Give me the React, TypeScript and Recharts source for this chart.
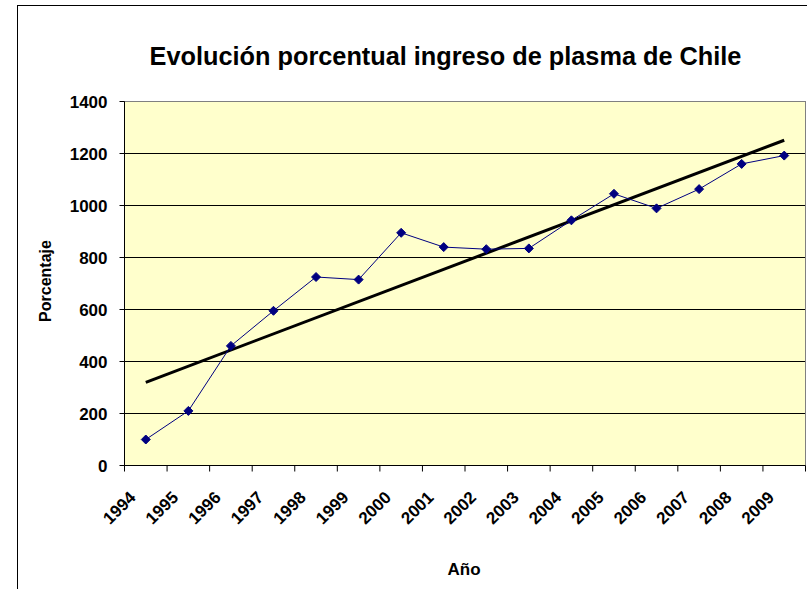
import { LineChart, Line, XAxis, YAxis, CartesianGrid, ReferenceLine } from "recharts";

const years = ["1994", "1995", "1996", "1997", "1998", "1999", "2000", "2001", "2002", "2003", "2004", "2005", "2006", "2007", "2008", "2009"];
const ingreso = [100, 210, 460, 595, 725, 715, 895, 840, 832, 835, 943, 1045, 989, 1063, 1160, 1192];
const trendStart = 320;
const trendEnd = 1251;
const yTicks = [0, 200, 400, 600, 800, 1000, 1200, 1400];

const data = years.map((year, i) => ({
  year,
  ingreso: ingreso[i],
  tendencia: i === 0 ? trendStart : i === years.length - 1 ? trendEnd : null,
}));

const font = "'Liberation Sans', Arial, sans-serif";

const YearTick = ({ x, y, payload }: any) => {
  const half = payload.offset ?? 0;
  const last = payload.value === years[years.length - 1];
  const tx = x - 9;
  const ty = y + 33;
  return (
    <g>
      <line x1={x - half} x2={x - half} y1={y} y2={y + 6} stroke="#000" />
      {last && <line x1={x + half} x2={x + half} y1={y} y2={y + 6} stroke="#000" />}
      <text
        x={tx}
        y={ty}
        textAnchor="end"
        transform={`rotate(-45, ${tx}, ${ty})`}
        fontFamily={font}
        fontWeight="bold"
        fontSize={17}
        fill="#000"
      >
        {payload.value}
      </text>
    </g>
  );
};

const Diamond = ({ cx, cy }: any) => {
  if (cx == null || cy == null) return null;
  const r = 4.5;
  return (
    <polygon
      points={`${cx},${cy - r} ${cx + r},${cy} ${cx},${cy + r} ${cx - r},${cy}`}
      fill="#000080"
      stroke="#000080"
    />
  );
};

export default function App() {
  return (
    <div style={{ position: "absolute", left: 0, top: 0, width: 807, height: 589, overflow: "hidden", background: "#fff", fontFamily: font }}>
      <div style={{ position: "absolute", left: 17, top: 5, width: 900, height: 700, border: "1px solid #000" }} />
      <div style={{ position: "absolute", left: 0, top: 44, width: 891, textAlign: "center", fontSize: 25.3, fontWeight: "bold", lineHeight: "25px", whiteSpace: "nowrap" }}>
        Evolución porcentual ingreso de plasma de Chile
      </div>
      <div style={{ position: "absolute", left: 0, top: 0 }}>
        <LineChart width={807} height={589} data={data} margin={{ top: 101.5, right: 0.5, left: 0, bottom: 43.5 }}>
          <CartesianGrid vertical={false} stroke="#000" fill="#FFFFCC" />
          <XAxis
            dataKey="year"
            scale="band"
            height={80}
            tickLine={false}
            tickSize={0}
            tickMargin={0}
            axisLine={{ stroke: "#000" }}
            interval={0}
            tick={<YearTick />}
          />
          <YAxis
            domain={[0, 1400]}
            ticks={yTicks}
            width={124.5}
            tickSize={5}
            tickMargin={12}
            axisLine={{ stroke: "#000" }}
            tickLine={{ stroke: "#000" }}
            tick={{ fill: "#000", fontSize: 17, fontWeight: "bold", fontFamily: font }}
          />
          <YAxis yAxisId="r" orientation="right" width={1} domain={[0, 1400]} tick={false} tickLine={false} axisLine={{ stroke: "#808080" }} />
          <ReferenceLine y={1400} stroke="#808080" />
          <Line dataKey="tendencia" stroke="#000" strokeWidth={3} dot={false} connectNulls isAnimationActive={false} />
          <Line dataKey="ingreso" stroke="#000080" strokeWidth={1} dot={<Diamond />} activeDot={false} isAnimationActive={false} />
        </LineChart>
      </div>
      <div style={{ position: "absolute", left: 46, top: 281, transform: "translate(-50%, -50%) rotate(-90deg)", fontSize: 16, fontWeight: "bold", lineHeight: "16px", whiteSpace: "nowrap" }}>
        Porcentaje
      </div>
      <div style={{ position: "absolute", left: 464, top: 569, transform: "translate(-50%, -50%)", fontSize: 17, fontWeight: "bold", lineHeight: "17px", whiteSpace: "nowrap" }}>
        Año
      </div>
    </div>
  );
}
